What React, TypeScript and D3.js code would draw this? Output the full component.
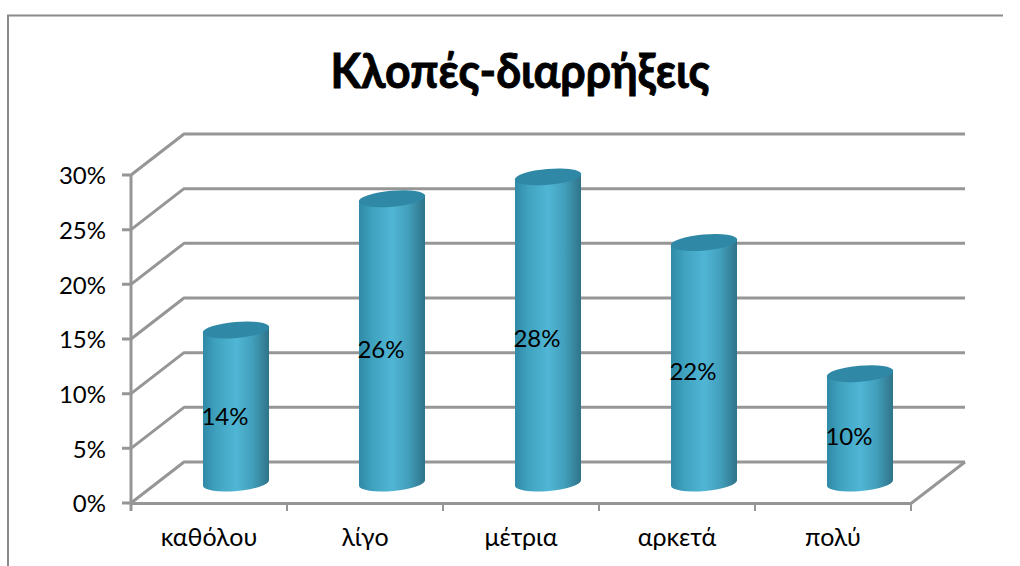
import React from "react";
import * as d3 from "d3";

const titleText = "Κλοπές-διαρρήξεις";
const categories = ["καθόλου", "λίγο", "μέτρια", "αρκετά", "πολύ"];
const values = [0.14, 0.26, 0.28, 0.22, 0.1];
const yTicks = [0, 0.05, 0.1, 0.15, 0.2, 0.25, 0.3];
const labelLevels = [0.061, 0.122, 0.132, 0.102, 0.042];

const FONT = "Lato, 'Open Sans', sans-serif";
const GRID = "#969696";
const depthX = 53;
const depthY = -41;
const rx = 33;
const ry = 8;
const tilt = -5;

export default function App() {
  const x = d3.scaleBand<string>().domain(categories).range([131, 911]);
  const y = d3.scaleLinear().domain([0, 0.3]).range([503, 175]);
  const pct = d3.format(".0%");

  return (
    <svg
      width={1020}
      height={566}
      viewBox="0 0 1020 566"
      style={{ position: "absolute", left: 0, top: 0, display: "block", background: "#fff" }}
      fontFamily={FONT}
    >
      <defs>
        <linearGradient id="cyl" x1="0" x2="1" y1="0" y2="0">
          <stop offset="0" stopColor="#2f8aa6" />
          <stop offset="0.2" stopColor="#3fa2bf" />
          <stop offset="0.5" stopColor="#50b6d5" />
          <stop offset="0.75" stopColor="#429fbb" />
          <stop offset="1" stopColor="#2f7389" />
        </linearGradient>
      </defs>

      <path d="M8 566V15.5H1003" fill="none" stroke="#8a8a8a" strokeWidth={2} />

      <text
        x={520}
        y={88}
        textAnchor="middle"
        fontSize={48}
        fontWeight={700}
        fill="#000"
        stroke="#000"
        strokeWidth={0.9}
        textLength={379}
        lengthAdjust="spacingAndGlyphs"
      >
        {titleText}
      </text>

      {yTicks.map((t) => (
        <g key={t}>
          <path
            d={`M122 ${y(t)}H131L${131 + depthX} ${y(t) + depthY}H965`}
            fill="none"
            stroke={GRID}
            strokeWidth={3}
            strokeLinejoin="round"
          />
          <text x={106} y={y(t) + 1} dy="0.35em" textAnchor="end" fontSize={24} fill="#000">
            {pct(t)}
          </text>
        </g>
      ))}

      <path d={`M131 ${y(0.3)}V511`} fill="none" stroke={GRID} strokeWidth={3} />
      <path
        d={`M131 ${y(0) + 0.5}H911L965 ${y(0) + depthY}`}
        fill="none"
        stroke={GRID}
        strokeWidth={3}
      />
      {[...categories.map((c) => x(c) as number), 911].map((p) => (
        <line key={p} x1={p} x2={p} y1={503} y2={511} stroke={GRID} strokeWidth={2} />
      ))}

      {categories.map((c, i) => {
        const cx = (x(c) as number) + 105;
        const top = y(values[i]) - 20;
        const base = y(0) - 20;
        return (
          <g key={c} transform={`translate(${cx},0)`}>
            <path
              d={`M${-rx} ${top + 3}L${-rx} ${base + 3}A${rx} ${ry} ${tilt} 0 0 ${rx} ${base - 3}L${rx} ${top - 3}Z`}
              fill="url(#cyl)"
            />
            <ellipse
              cx={0}
              cy={top}
              rx={rx + 0.4}
              ry={ry}
              transform={`rotate(${tilt} 0 ${top})`}
              fill="#2f88a6"
            />
          </g>
        );
      })}

      {categories.map((c, i) => (
        <text
          key={c}
          x={(x(c) as number) + 94}
          y={y(labelLevels[i]) - 20}
          dy="0.35em"
          textAnchor="middle"
          fontSize={24}
          fill="#000"
        >
          {pct(values[i])}
        </text>
      ))}

      {categories.map((c) => (
        <text
          key={c}
          x={(x(c) as number) + 78}
          y={537}
          dy="0.35em"
          textAnchor="middle"
          fontSize={25}
          fill="#000"
        >
          {c}
        </text>
      ))}
    </svg>
  );
}
